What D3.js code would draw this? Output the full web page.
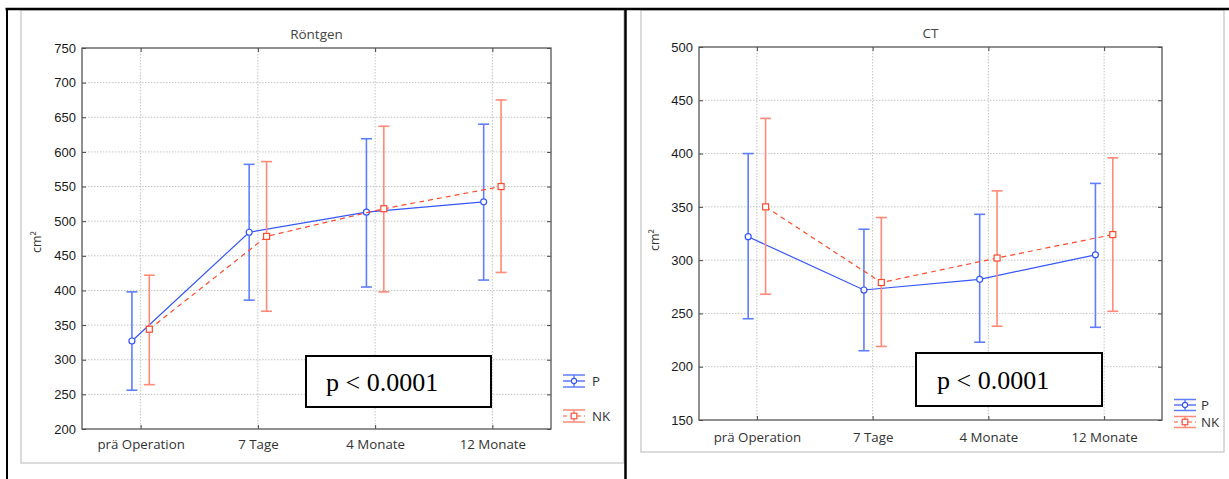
<!DOCTYPE html>
<html>
<head>
<meta charset="utf-8">
<script src="https://cdn.jsdelivr.net/npm/d3@7"></script>
<style>
  html, body { margin: 0; padding: 0; background: #fff; }
  svg { display: block; }
</style>
</head>
<body>
<svg id="chart" width="1229" height="479"></svg>
<script>
// Time points shared by both panels
const categories = ["prä Operation", "7 Tage", "4 Monate", "12 Monate"];

// Röntgen: mean with lower / upper interval bounds (cm²)
const roentgenPMean  = [327, 484, 513, 528];
const roentgenPLow   = [256, 386, 405, 415];
const roentgenPHigh  = [398, 582, 619, 640];
const roentgenNKMean = [344, 478, 518, 550];
const roentgenNKLow  = [264, 370, 398, 426];
const roentgenNKHigh = [422, 586, 637, 675];
const roentgenTicks  = [200, 250, 300, 350, 400, 450, 500, 550, 600, 650, 700, 750];

// CT: mean with lower / upper interval bounds (cm²)
const ctPMean  = [322, 272, 282, 305];
const ctPLow   = [245, 215, 223, 237];
const ctPHigh  = [400, 329, 343, 372];
const ctNKMean = [350, 279, 302, 324];
const ctNKLow  = [268, 219, 238, 252];
const ctNKHigh = [433, 340, 365, 396];
const ctTicks  = [150, 200, 250, 300, 350, 400, 450, 500];

const groupNames = ["P", "NK"];
const pText = "p < 0.0001";

const COLORS = {
  P:  { line: "#3556fa", bar: "#5f7dff" },
  NK: { line: "#ff4a2e", bar: "#ff8a78" }
};

const svg = d3.select("#chart");
svg.append("rect").attr("width", 1229).attr("height", 479).attr("fill", "#fff");

function zip(mean, low, high) {
  return categories.map((c, i) => ({ cat: c, mean: mean[i], low: low[i], high: high[i] }));
}

function drawPanel(cfg) {
  const g = svg.append("g");

  // light outer frame of the panel
  g.append("rect")
    .attr("x", cfg.frame[0]).attr("y", cfg.frame[1])
    .attr("width", cfg.frame[2]).attr("height", cfg.frame[3])
    .attr("fill", "none").attr("stroke", "#cfcfcf").attr("stroke-width", 1.5);

  const x = d3.scalePoint().domain(categories).range([cfg.x0, cfg.x1]).padding(0.5);
  const y = d3.scaleLinear().domain(cfg.domain).range([cfg.y1, cfg.y0]);

  // dotted grid
  const grid = g.append("g").attr("stroke", "#c4c4c4").attr("stroke-width", 1)
    .attr("stroke-dasharray", "1.5,1.5");
  grid.selectAll("line.h").data(cfg.ticks.slice(1, -1)).join("line")
    .attr("x1", cfg.x0).attr("x2", cfg.x1)
    .attr("y1", d => y(d)).attr("y2", d => y(d));
  grid.selectAll("line.v").data(categories).join("line")
    .attr("x1", d => x(d)).attr("x2", d => x(d))
    .attr("y1", cfg.y0).attr("y2", cfg.y1);

  // axes (inward ticks, no outer domain paths)
  const tickStyle = sel => {
    sel.select(".domain").remove();
    sel.selectAll(".tick line").attr("stroke", "#444").attr("stroke-width", 1);
  };
  const left = g.append("g").attr("transform", `translate(${cfg.x0},0)`)
    .call(d3.axisLeft(y).tickValues(cfg.ticks).tickSize(-4).tickPadding(6));
  tickStyle(left);
  left.selectAll(".tick text")
    .attr("font-family", "Liberation Sans, Arial, sans-serif")
    .attr("font-size", 13).attr("fill", "#1a1a1a");

  const right = g.append("g").attr("transform", `translate(${cfg.x1},0)`)
    .call(d3.axisRight(y).tickValues(cfg.ticks).tickSize(-4).tickFormat(""));
  tickStyle(right);

  const bottom = g.append("g").attr("transform", `translate(0,${cfg.y1})`)
    .call(d3.axisBottom(x).tickSize(-4).tickPadding(cfg.xLabelPad));
  tickStyle(bottom);
  bottom.selectAll(".tick text")
    .attr("font-family", "Open Sans, sans-serif")
    .attr("font-size", 13.3).attr("fill", "#333");

  const top = g.append("g").attr("transform", `translate(0,${cfg.y0})`)
    .call(d3.axisTop(x).tickSize(-4).tickFormat(""));
  tickStyle(top);

  // plot frame
  g.append("rect")
    .attr("x", cfg.x0).attr("y", cfg.y0)
    .attr("width", cfg.x1 - cfg.x0).attr("height", cfg.y1 - cfg.y0)
    .attr("fill", "none").attr("stroke", "#555").attr("stroke-width", 1.3);

  // title and y label
  g.append("text")
    .attr("x", (cfg.x0 + cfg.x1) / 2).attr("y", cfg.y0 - 9)
    .attr("text-anchor", "middle")
    .attr("font-family", "Open Sans, sans-serif").attr("font-size", 13.5)
    .attr("fill", "#444").text(cfg.title);
  g.append("text")
    .attr("transform", `translate(${cfg.yLabelX},${cfg.yLabelY}) rotate(-90)`)
    .attr("text-anchor", "middle")
    .attr("font-family", "Open Sans, sans-serif").attr("font-size", 12.5)
    .attr("fill", "#333").text("cm²");

  // series
  const offset = 8.7;
  const cap = 5.5;
  cfg.series.forEach((s, si) => {
    const col = COLORS[s.name];
    const dx = si === 0 ? -offset : offset;
    const data = s.data;
    const sg = g.append("g");

    // error bars
    sg.selectAll("g.eb").data(data).join("g").each(function (d) {
      const e = d3.select(this);
      const cx = x(d.cat) + dx;
      e.append("line").attr("x1", cx).attr("x2", cx)
        .attr("y1", y(d.low)).attr("y2", y(d.high))
        .attr("stroke", col.bar).attr("stroke-width", 1.6);
      [d.low, d.high].forEach(v => {
        e.append("line").attr("x1", cx - cap).attr("x2", cx + cap)
          .attr("y1", y(v)).attr("y2", y(v))
          .attr("stroke", col.bar).attr("stroke-width", 1.6);
      });
    });

    // connecting line
    const line = d3.line().x(d => x(d.cat) + dx).y(d => y(d.mean));
    sg.append("path").datum(data).attr("d", line)
      .attr("fill", "none").attr("stroke", col.line).attr("stroke-width", 1.2)
      .attr("stroke-dasharray", s.name === "NK" ? "5,4" : null);

    // markers
    if (s.name === "P") {
      sg.selectAll("circle").data(data).join("circle")
        .attr("cx", d => x(d.cat) + dx).attr("cy", d => y(d.mean)).attr("r", 3)
        .attr("fill", "#fff").attr("stroke", col.line).attr("stroke-width", 1.2);
    } else {
      sg.selectAll("rect").data(data).join("rect")
        .attr("x", d => x(d.cat) + dx - 3).attr("y", d => y(d.mean) - 3)
        .attr("width", 6).attr("height", 6)
        .attr("fill", "#fff").attr("stroke", col.line).attr("stroke-width", 1.2);
    }
  });

  // legend
  groupNames.forEach((name, i) => {
    const col = COLORS[name];
    const ly = cfg.legendY[i];
    const lx = cfg.legendX;
    const w = 22;
    const lg = g.append("g");
    [ly - cfg.legendCap, ly + cfg.legendCap].forEach(v => {
      lg.append("line").attr("x1", lx).attr("x2", lx + w).attr("y1", v).attr("y2", v)
        .attr("stroke", col.bar).attr("stroke-width", 1.5);
    });
    lg.append("line").attr("x1", lx + w / 2).attr("x2", lx + w / 2)
      .attr("y1", ly - cfg.legendCap).attr("y2", ly + cfg.legendCap)
      .attr("stroke", col.bar).attr("stroke-width", 1.5);
    lg.append("line").attr("x1", lx).attr("x2", lx + w).attr("y1", ly).attr("y2", ly)
      .attr("stroke", col.line).attr("stroke-width", 1.2)
      .attr("stroke-dasharray", name === "NK" ? "4,3" : null);
    if (name === "P") {
      lg.append("circle").attr("cx", lx + w / 2).attr("cy", ly).attr("r", 2.6)
        .attr("fill", "#fff").attr("stroke", col.line).attr("stroke-width", 1.1);
    } else {
      lg.append("rect").attr("x", lx + w / 2 - 2.8).attr("y", ly - 2.8)
        .attr("width", 5.6).attr("height", 5.6)
        .attr("fill", "#fff").attr("stroke", col.line).attr("stroke-width", 1.1);
    }
    lg.append("text").attr("x", cfg.legendTextX).attr("y", ly).attr("dy", "0.36em")
      .attr("font-family", "Open Sans, sans-serif").attr("font-size", 13.3)
      .attr("fill", "#333").text(name);
  });

  // significance box
  const b = cfg.pBox;
  g.append("rect").attr("x", b[0]).attr("y", b[1])
    .attr("width", b[2] - b[0]).attr("height", b[3] - b[1])
    .attr("fill", "#fff").attr("stroke", "#000").attr("stroke-width", 2);
  g.append("text").attr("x", cfg.pTextX).attr("y", cfg.pTextY)
    .attr("font-family", "Liberation Serif, Times New Roman, serif")
    .attr("font-size", 26).attr("fill", "#000").text(pText);
}

drawPanel({
  title: "Röntgen",
  frame: [21, 10, 603, 453],
  x0: 82, x1: 551, y0: 48, y1: 429,
  domain: [200, 750], ticks: roentgenTicks,
  xLabelPad: 10.5,
  yLabelX: 41, yLabelY: 242,
  series: [
    { name: "P",  data: zip(roentgenPMean, roentgenPLow, roentgenPHigh) },
    { name: "NK", data: zip(roentgenNKMean, roentgenNKLow, roentgenNKHigh) }
  ],
  legendX: 563, legendTextX: 592, legendY: [381, 416], legendCap: 6,
  pBox: [306, 356, 491, 407], pTextX: 326, pTextY: 391
});

drawPanel({
  title: "CT",
  frame: [641, 10, 583, 442],
  x0: 699, x1: 1162, y0: 47, y1: 420,
  domain: [150, 500], ticks: ctTicks,
  xLabelPad: 13,
  yLabelX: 659, yLabelY: 240,
  series: [
    { name: "P",  data: zip(ctPMean, ctPLow, ctPHigh) },
    { name: "NK", data: zip(ctNKMean, ctNKLow, ctNKHigh) }
  ],
  legendX: 1174, legendTextX: 1201, legendY: [405, 422], legendCap: 5.5,
  pBox: [916, 353, 1102, 406], pTextX: 937, pTextY: 389
});

// black outer border and divider between the panels
const border = svg.append("g").attr("stroke", "#000").attr("fill", "none");
border.append("line").attr("x1", 5.5).attr("x2", 1229).attr("y1", 9).attr("y2", 9).attr("stroke-width", 2.5);
border.append("line").attr("x1", 7).attr("x2", 7).attr("y1", 8).attr("y2", 479).attr("stroke-width", 2);
border.append("line").attr("x1", 625.5).attr("x2", 625.5).attr("y1", 8).attr("y2", 479).attr("stroke-width", 2.5);
</script>
</body>
</html>
